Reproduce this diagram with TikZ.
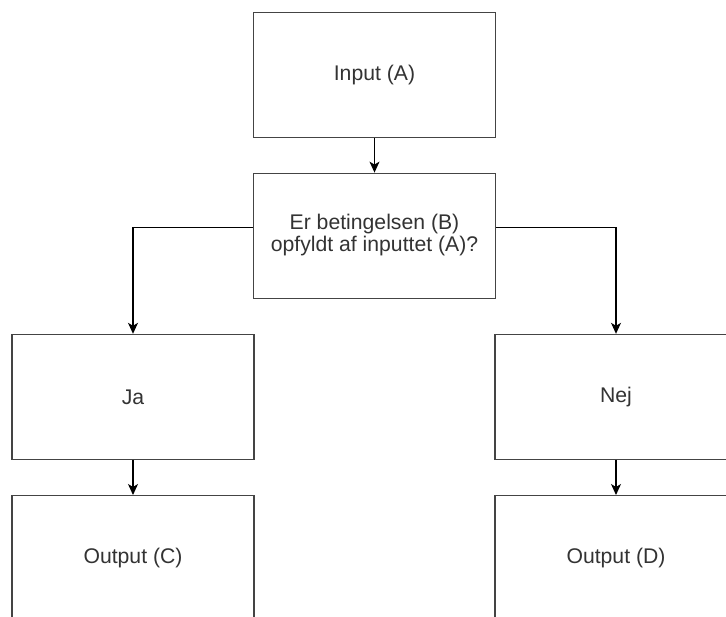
\documentclass[tikz,border=0pt]{standalone}
\usepackage{fontspec}
\setmainfont{Liberation Sans}
\usetikzlibrary{arrows.meta}
\definecolor{txtgray}{HTML}{333333}
\definecolor{boxgray}{HTML}{444444}
\tikzset{
  box/.style={draw=boxgray, line width=1.4pt, fill=white, rectangle,
    minimum width=242pt, minimum height=125pt, inner sep=0pt,
    align=center, text=txtgray, font=\fontsize{21.2}{21.5}\selectfont},
  conn/.style={draw=black, line width=1.1pt,
    -{Stealth[length=11pt,width=10pt,inset=3pt]}}
}
\begin{document}
\begin{tikzpicture}[x=1pt,y=-1pt]
\useasboundingbox (0,0) rectangle (726,617);
\node[box] (in) at (374.5,75) {Input (A)};
\node[box] (cond) at (374.5,235.8) {\raisebox{-2.7pt}{\begin{tabular}{@{}c@{}}Er betingelsen (B)\\opfyldt af inputtet (A)?\end{tabular}}};
\node[box] (ja) at (133,397) {Ja};
\node[box] (nej) at (616,397) {Nej};
\node[box] (outc) at (133,558.2) {Output (C)};
\node[box] (outd) at (616,558.2) {Output (D)};
\draw[conn] (in) -- (cond);
\draw[conn] ([yshift=8.3pt]cond.west) -| (ja.north);
\draw[conn] ([yshift=8.3pt]cond.east) -| (nej.north);
\draw[conn] (ja) -- (outc);
\draw[conn] (nej) -- (outd);
\end{tikzpicture}
\end{document}
